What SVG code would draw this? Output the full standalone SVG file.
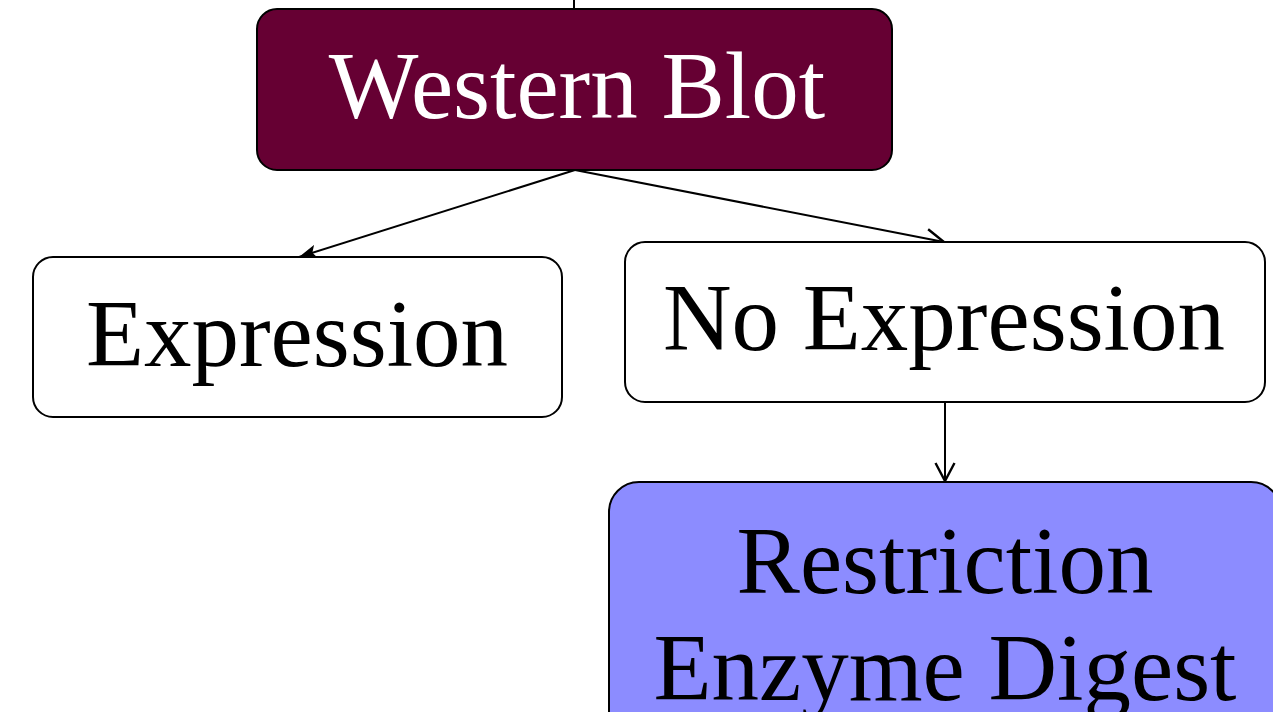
<svg xmlns="http://www.w3.org/2000/svg" width="1273" height="712" viewBox="0 0 1273 712">
<defs>
<style>
.box{stroke:#000;stroke-width:2}
.lbl{font-family:"Liberation Serif","Times New Roman",serif;font-size:95px;text-anchor:middle}
.conn{stroke:#000;stroke-width:2;fill:none}
</style>
<marker id="filled" viewBox="0 0 18 14" refX="18" refY="7" markerWidth="18" markerHeight="14" markerUnits="userSpaceOnUse" orient="auto">
<path d="M0,0 L18,7 L0,14 L4,7 Z" fill="#000"/>
</marker>
<marker id="open" viewBox="0 0 20 22" refX="19" refY="11" markerWidth="20" markerHeight="22" markerUnits="userSpaceOnUse" orient="auto">
<path d="M1,1.5 L19,11 L1,20.5" fill="none" stroke="#000" stroke-width="2.4"/>
</marker>
</defs>
<rect width="1273" height="712" fill="#fff"/>
<g id="connectors">
<line class="conn" x1="574" y1="0" x2="574" y2="10"/>
<line class="conn" x1="575" y1="170" x2="299" y2="257" marker-end="url(#filled)"/>
<line class="conn" x1="575" y1="170" x2="944" y2="242" marker-end="url(#open)"/>
<line class="conn" x1="945" y1="402" x2="945" y2="481" marker-end="url(#open)"/>
</g>
<g id="western-blot">
<rect class="box" x="257" y="9" width="635" height="161" rx="20" fill="#660033"/>
<text class="lbl" x="577" y="118" fill="#fff">Western Blot</text>
</g>
<g id="expression">
<rect class="box" x="33" y="257" width="529" height="160" rx="20" fill="#fff"/>
<text class="lbl" x="297" y="366" fill="#000">Expression</text>
</g>
<g id="no-expression">
<rect class="box" x="625" y="242" width="640" height="160" rx="20" fill="#fff"/>
<text class="lbl" x="944" y="350" fill="#000">No Expression</text>
</g>
<g id="restriction">
<rect class="box" x="609" y="482" width="672" height="260" rx="30" fill="#8C8CFF"/>
<text class="lbl" x="945" y="593" fill="#000">Restriction</text>
<text class="lbl" x="945" y="700" fill="#000">Enzyme Digest</text>
</g>
</svg>
